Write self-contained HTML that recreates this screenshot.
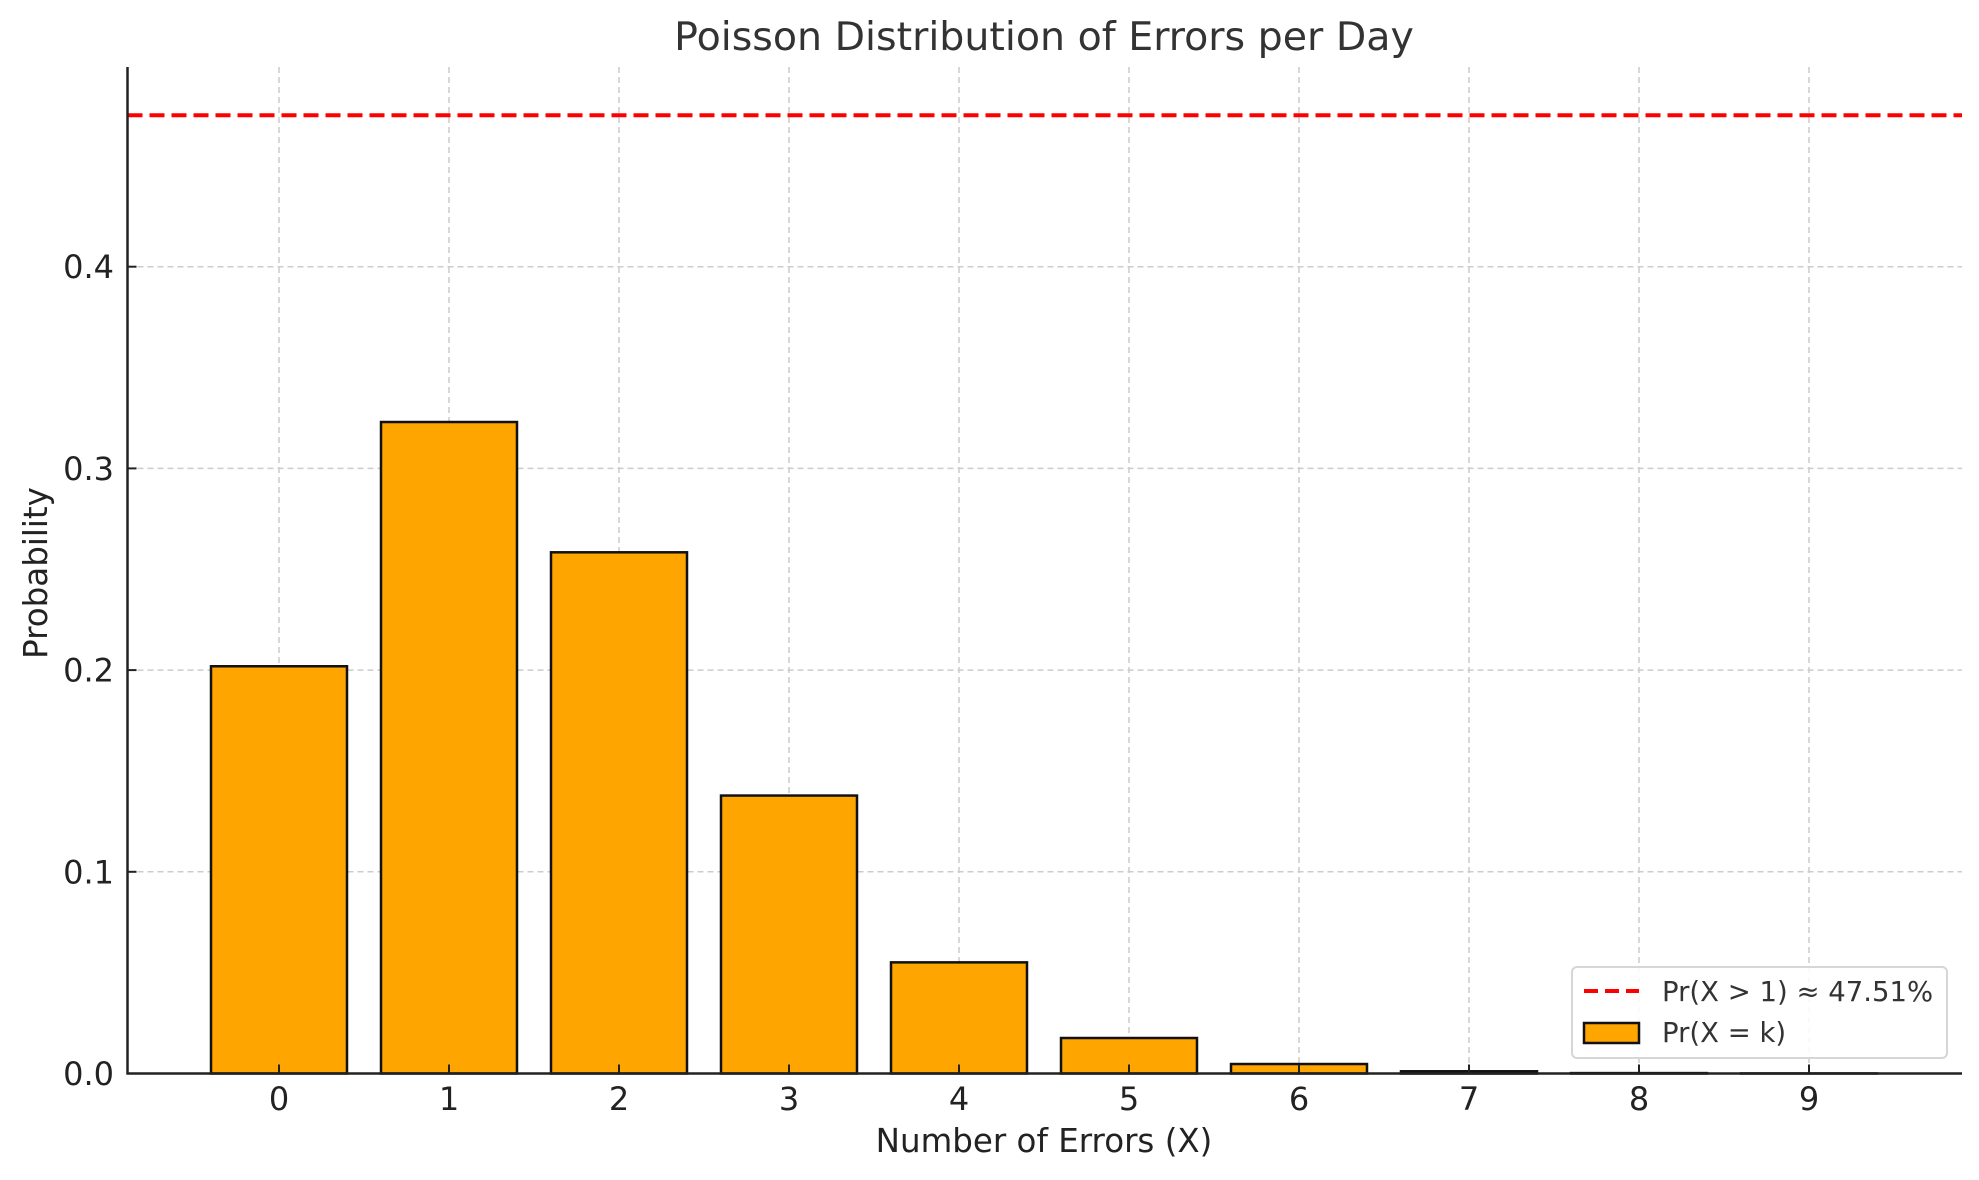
<!DOCTYPE html>
<html><head><meta charset="utf-8"><style>
body{margin:0;background:#fff}
svg{display:block;font-family:"DejaVu Sans","Liberation Sans",sans-serif}
</style></head><body>
<svg id="chart" width="1979" height="1180" viewBox="0 0 1979 1180">
<rect width="1979" height="1180" fill="#fff"/>
<g id="grid"></g>
<g id="bars"></g>
<g id="ref"></g>
<g id="axes"></g>
<text x="1044" y="50" font-size="39.5" fill="#333" text-anchor="middle">Poisson Distribution of Errors per Day</text>
<text x="1044" y="1152" font-size="32.5" fill="#222" text-anchor="middle">Number of Errors (X)</text>
<text transform="translate(47,573) rotate(-90)" font-size="32.5" fill="#222" text-anchor="middle">Probability</text>
<g>
<rect x="1572" y="967" width="375" height="91" rx="5" fill="#fff" fill-opacity="0.85" stroke="#d6d6d6" stroke-width="2"/>
<line x1="1584" y1="991" x2="1639" y2="991" stroke="#f00" stroke-width="4" stroke-dasharray="14,7"/>
<text x="1662" y="1001" font-size="27.5" fill="#333">Pr(X &gt; 1) ≈ 47.51%</text>
<rect x="1584" y="1023" width="55" height="20" fill="#FFA500" stroke="#111" stroke-width="2.5"/>
<text x="1662" y="1042" font-size="27.5" fill="#333">Pr(X = k)</text>
</g>
</svg>
<script>
const categories=[0,1,2,3,4,5,6,7,8,9];
const probs=[0.2019,0.3230,0.2584,0.1378,0.0551,0.0176,0.0047,0.0011,0.0002,0.00004];
const threshold=[0.4751];
const yTicks=[0.0,0.1,0.2,0.3,0.4];
const yTickLabels=["0.0","0.1","0.2","0.3","0.4"];
const L=127.5,R=1962,T=67,B=1073.5;
const x=v=>279+v*170;
const y=v=>B-v*2017;
const NS="http://www.w3.org/2000/svg";
function mk(tag,attrs,parent){const e=document.createElementNS(NS,tag);for(const k in attrs)e.setAttribute(k,attrs[k]);document.getElementById(parent).appendChild(e);return e;}
categories.forEach(c=>{
  const g=mk('line',{x1:x(c),x2:x(c),y1:T,y2:B,stroke:'#cccccc','stroke-width':1.5,'stroke-dasharray':'6,4'},'grid');
  
  
});
yTicks.forEach(v=>{
  const g=mk('line',{x1:L,x2:R,y1:y(v),y2:y(v),stroke:'#cccccc','stroke-width':1.5,'stroke-dasharray':'6,4'},'grid');
  
  
});
categories.forEach((c,i)=>{
  const h=B-y(probs[i]);
  const b=mk('rect',{x:x(c)-68,y:y(probs[i]),width:136,height:h,fill:'#FFA500',stroke:'#111','stroke-width':2.5},'bars');
  
  
});
const rl=mk('line',{x1:L,x2:R,y1:y(threshold[0]),y2:y(threshold[0]),stroke:'#f00','stroke-width':4,'stroke-dasharray':'15,7'},'ref');


const sl=mk('line',{x1:L,x2:L,y1:T,y2:B+1,stroke:'#222','stroke-width':2.5},'axes');


const sb=mk('line',{x1:L-1,x2:R,y1:B,y2:B,stroke:'#222','stroke-width':2.5},'axes');


categories.forEach(c=>{
  const t=mk('line',{x1:x(c),x2:x(c),y1:B,y2:B-9,stroke:'#222','stroke-width':2},'axes');
  
  
  const l=mk('text',{x:x(c),y:1110,'font-size':32,fill:'#222','text-anchor':'middle'},'axes');
  l.textContent=String(c);
  
  
});
yTicks.forEach((v,i)=>{
  const t=mk('line',{x1:L,x2:L+9,y1:y(v),y2:y(v),stroke:'#222','stroke-width':2},'axes');
  
  
  const l=mk('text',{x:114,y:y(v)+11.5,'font-size':32,fill:'#222','text-anchor':'end'},'axes');
  l.textContent=yTickLabels[i];
  
  
});
</script>
</body></html>
